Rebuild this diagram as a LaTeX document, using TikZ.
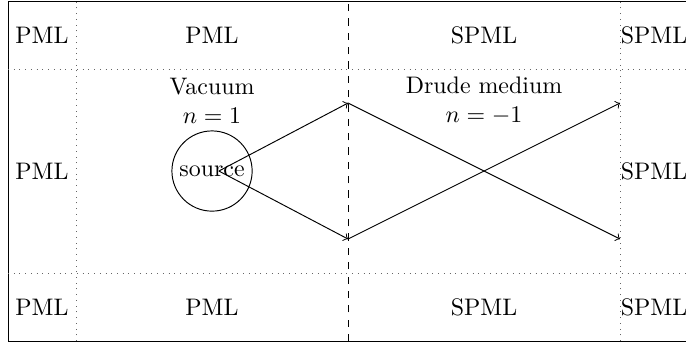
\documentclass[tikz,border=0pt]{standalone}
\begin{document}
\begin{tikzpicture}[
  gridline/.style={dotted, gray!80!black},
  iface/.style={dashed},
  ray/.style={->},
  lbl/.style={inner sep=0pt, align=center}
]
\useasboundingbox (-0.118,-0.03) rectangle (9.97,5.015);
% border
\draw (10,0) -- (0,0) -- (0,5) -- (10,5);
% PML grid
\draw[gridline] (1,0) -- (1,5);
\draw[gridline] (9,0) -- (9,5);
\draw[gridline] (0,1) -- (10,1);
\draw[gridline] (0,4) -- (10,4);
% interface
\draw[iface] (5,0) -- (5,5);
% layer labels
\node[lbl] (p1) at (0.5,4.5) {PML};
\node[lbl] (p2) at (3,4.5) {PML};
\node[lbl] (s1) at (7,4.5) {SPML};
\node[lbl] (s2) at (9.5,4.5) {SPML};
\node[lbl] (p3) at (0.5,2.5) {PML};
\node[lbl] (s3) at (9.5,2.5) {SPML};
\node[lbl] (p4) at (0.5,0.5) {PML};
\node[lbl] (p5) at (3,0.5) {PML};
\node[lbl] (s4) at (7,0.5) {SPML};
\node[lbl] (s5) at (9.5,0.5) {SPML};
% media
\node[lbl] (vac) at (3,3.53) {Vacuum\\$n=1$};
\node[lbl] (drude) at (7,3.53) {Drude medium\\$n=-1$};
% source
\node[draw, circle, minimum size=1.18cm, inner sep=0pt] (src) at (3,2.5) {source};
\coordinate (o) at (3.1,2.5);
\coordinate (a) at (5,3.5);
\coordinate (b) at (5,1.5);
\coordinate (c) at (9,1.5);
\coordinate (d) at (9,3.5);
\draw[ray] (o) -- (a);
\draw[ray] (o) -- (b);
\draw[ray] (a) -- (c);
\draw[ray] (b) -- (d);
\end{tikzpicture}
\end{document}
